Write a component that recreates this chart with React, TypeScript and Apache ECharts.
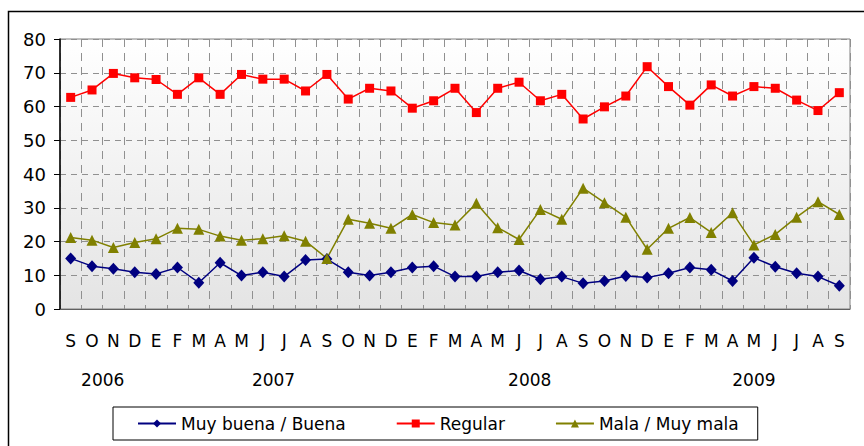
import React, { useEffect, useRef } from "react";
import * as echarts from "echarts";

const months = ["S","O","N","D","E","F","M","A","M","J","J","A","S","O","N","D","E","F","M","A","M","J","J","A","S","O","N","D","E","F","M","A","M","J","J","A","S"];
const years = ["2006", "2007", "2008", "2009"];
const yTicks = [0, 10, 20, 30, 40, 50, 60, 70, 80];

const muyBuena = [15.0,12.7,11.9,10.9,10.4,12.3,7.8,13.7,9.9,10.9,9.6,14.5,14.8,10.9,9.9,10.9,12.3,12.7,9.6,9.6,10.9,11.4,8.8,9.6,7.6,8.3,9.8,9.3,10.6,12.3,11.6,8.3,15.2,12.5,10.6,9.6,6.9];
const regular = [62.7,64.9,69.8,68.5,68.0,63.6,68.5,63.6,69.5,68.1,68.1,64.6,69.5,62.2,65.4,64.6,59.5,61.7,65.4,58.2,65.4,67.2,61.7,63.6,56.3,59.9,63.1,71.8,65.9,60.4,66.4,63.1,65.9,65.4,61.9,58.8,64.1];
const mala = [21.2,20.4,18.2,19.7,20.8,23.9,23.6,21.6,20.4,20.8,21.7,20.1,15.0,26.6,25.4,23.9,28.0,25.6,24.9,31.3,24.1,20.6,29.5,26.6,35.8,31.5,27.2,17.7,23.9,27.1,22.7,28.5,19.0,22.1,27.2,31.8,28.0];

const FONT = "'DejaVu Sans', Verdana, sans-serif";

export default function App() {
  const ref = useRef<HTMLDivElement>(null);
  useEffect(() => {
    if (!ref.current) return;
    const chart = echarts.init(ref.current, null, { renderer: "svg" });
    const mk = (name: string, data: number[], color: string, symbol: string, size: any) => ({
      name,
      type: "line",
      data,
      symbol,
      symbolSize: size,
      showSymbol: true,
      itemStyle: { color },
      lineStyle: { color, width: 1.5 },
      emphasis: { disabled: true },
    });
    chart.setOption({
      animation: false,
      grid: {
        left: 60,
        top: 39,
        right: 14,
        bottom: 137,
        show: true,
        borderColor: "#808080",
        borderWidth: 1,
        backgroundColor: {
          type: "linear", x: 0, y: 0, x2: 0, y2: 1,
          colorStops: [
            { offset: 0, color: "#ffffff" },
            { offset: 1, color: "#e4e4e4" },
          ],
        },
      },
      xAxis: {
        type: "category",
        data: months,
        boundaryGap: true,
        axisLine: { lineStyle: { color: "#606060", width: 1 } },
        axisTick: { show: false },
        axisLabel: { interval: 0, color: "#000", fontFamily: FONT, fontSize: 17, margin: 23 },
        splitLine: { show: true, interval: 0, lineStyle: { color: "#909090", type: [8, 6], width: 1 } },
      },
      yAxis: {
        type: "value",
        min: yTicks[0],
        max: yTicks[yTicks.length - 1],
        interval: 10,
        axisLine: { show: true, lineStyle: { color: "#000", width: 1.5 } },
        axisTick: { show: true, length: 6, lineStyle: { color: "#000" } },
        axisLabel: { color: "#000", fontFamily: FONT, fontSize: 18, margin: 14 },
        splitLine: { show: true, lineStyle: { color: "#909090", type: [6, 5], width: 1 } },
      },
      legend: {
        left: 113,
        top: 407,
        orient: "horizontal",
        padding: [8, 19, 8, 24],
        itemGap: 50,
        itemWidth: 38,
        itemHeight: 10,
        borderColor: "#000",
        borderWidth: 1,
        backgroundColor: "#fff",
        textStyle: { color: "#000", fontFamily: FONT, fontSize: 17 },
        data: ["Muy buena / Buena", "Regular", "Mala / Muy mala"],
      },
      series: [
        mk("Muy buena / Buena", muyBuena, "#000080", "diamond", [11, 12]),
        mk("Regular", regular, "#ff0000", "rect", 9),
        mk("Mala / Muy mala", mala, "#808000", "triangle", 11),
      ],
    });
    const starts: number[] = [0];
    months.forEach((m, i) => { if (m === "E" && i > 0) starts.push(i); });
    const graphics: any[] = [
      {
        type: "rect",
        shape: { x: 8.5, y: 11.5, width: 900, height: 500 },
        style: { fill: "none", stroke: "#000", lineWidth: 1.5 },
        silent: true,
        z: 0,
      },
    ];
    years.forEach((y, k) => {
      const s = starts[k];
      const e = k + 1 < starts.length ? starts[k + 1] - 1 : months.length - 1;
      const p1 = chart.convertToPixel({ xAxisIndex: 0 }, s) as number;
      const p2 = chart.convertToPixel({ xAxisIndex: 0 }, e) as number;
      graphics.push({
        type: "text",
        x: (p1 + p2) / 2,
        y: 380,
        style: { text: y, fill: "#000", font: `17px ${FONT}`, align: "center", verticalAlign: "middle" },
      });
    });
    chart.setOption({ graphic: graphics });
    return () => chart.dispose();
  }, []);
  return <div ref={ref} style={{ position: "absolute", left: 0, top: 0, width: 864, height: 446 }} />;
}
